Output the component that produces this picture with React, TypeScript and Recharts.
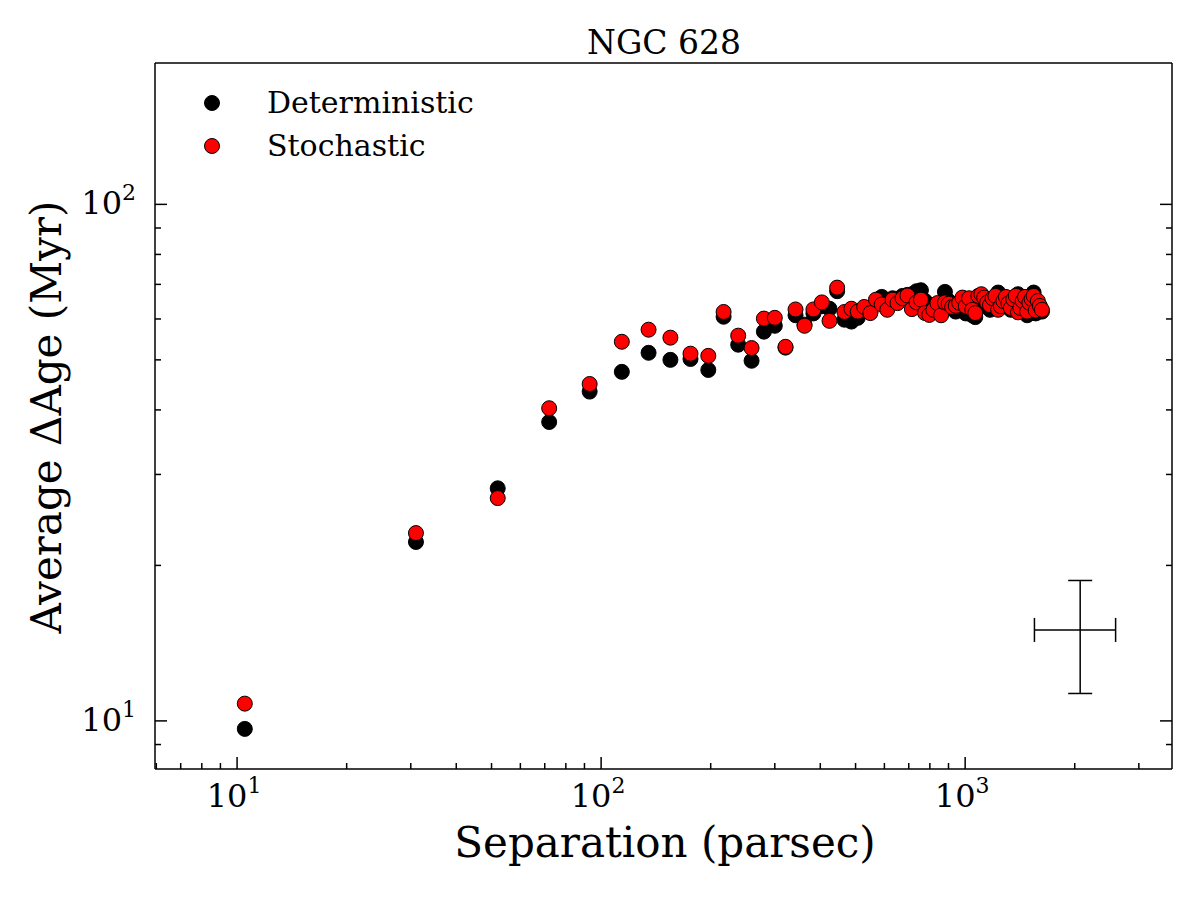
import { ScatterChart, Scatter, XAxis, YAxis, ErrorBar } from 'recharts'

// bin centres (parsec)
const separation = [
  10.5, 31, 52, 72, 93, 114, 135, 155, 176, 197, 217, 238, 259, 280, 300, 321, 342, 362, 383, 404,
  424, 445, 466, 487, 507, 528, 549, 569, 590, 611, 632, 652, 673, 694, 714, 735, 756, 776, 797, 818,
  839, 859, 880, 901, 921, 942, 963, 983, 1004, 1025, 1046, 1066, 1087, 1108, 1128, 1149, 1170, 1190,
  1211, 1232, 1253, 1273, 1294, 1315, 1335, 1356, 1377, 1397, 1418, 1439, 1460, 1480, 1501, 1522,
  1542, 1563, 1584, 1604, 1625,
]

// average delta age (Myr)
const deterministic = [
  9.65, 22.2, 28.2, 37.9, 43.4, 47.4, 51.6, 50.0, 50.2, 47.8, 60.6, 53.5, 49.8, 56.7, 58.2, 52.8,
  61.0, 58.5, 61.5, 63.5, 62.8, 67.9, 59.8, 59.3, 60.3, 62.5, 61.8, 64.5, 66.2, 63.0, 65.8, 65.5,
  66.5, 66.8, 67.0, 67.9, 68.2, 65.0, 63.5, 62.0, 63.0, 64.0, 67.7, 65.0, 63.5, 62.0, 63.0,
  63.0, 61.5, 63.5, 61.0, 60.5, 64.0, 65.5, 65.0, 63.5, 62.5, 64.5, 65.5, 67.5, 65.0, 64.0,
  65.0, 63.5, 62.5, 64.5, 66.0, 67.0, 62.5, 64.0, 65.5, 61.0, 63.5, 64.5, 67.5, 61.5, 64.0, 62.5, 62.0,
]

const stochastic = [
  10.8, 23.1, 27.0, 40.3, 44.9, 54.2, 57.2, 55.2, 51.4, 50.9, 61.9, 55.7, 52.7, 60.1, 60.3, 53.0,
  62.6, 58.2, 62.6, 64.6, 59.5, 69.0, 61.9, 62.8, 62.0, 63.3, 61.6, 65.4, 64.0, 62.5, 65.4, 64.4,
  65.8, 66.6, 62.7, 64.6, 65.4, 61.6, 61.1, 62.5, 64.4, 61.0, 64.6, 64.2, 63.3, 63.6, 64.5,
  66.0, 63.5, 65.8, 62.5, 61.6, 66.5, 67.0, 66.0, 64.5, 63.8, 65.8, 66.5, 62.5, 63.5, 65.0,
  66.2, 64.3, 63.0, 65.5, 66.5, 61.8, 63.0, 65.0, 66.2, 62.0, 64.5, 65.6, 66.5, 62.3, 65.0, 63.6, 62.5,
]

// typical uncertainty shown in the lower right
const errorPoint = [{ x: 2070, y: 15, ex: 520, ey: 3.7 }]

const xTicks = [6, 7, 8, 9, 10, 20, 30, 40, 50, 60, 70, 80, 90, 100, 200, 300, 400, 500, 600, 700, 800, 900, 1000, 2000, 3000]
const yTicks = [9, 10, 20, 30, 40, 50, 60, 70, 80, 90, 100]

const FONT = '"DejaVu Serif", serif'

const detData = separation.map((x, i) => ({ x, y: deterministic[i] }))
const stoData = separation.map((x, i) => ({ x, y: stochastic[i] }))

const isMajor = (v: number) => Math.abs(Math.log10(v) - Math.round(Math.log10(v))) < 1e-6

const Power = ({ x, y, v, anchor }: any) => (
  <text x={x} y={y} textAnchor={anchor} fontFamily={FONT} fontSize={32} fill="#000">
    10
    <tspan dy={-14} fontSize={22}>{Math.round(Math.log10(v))}</tspan>
  </text>
)

const tickProps = { stroke: '#000', strokeWidth: 1.5 }

const BottomTick = ({ x, y, payload }: any) => {
  const major = isMajor(payload.value)
  return (
    <g>
      <line x1={x} x2={x} y1={y} y2={y - (major ? 12 : 6)} {...tickProps} />
      {major && <Power x={x - 3} y={y + 38} v={payload.value} anchor="middle" />}
    </g>
  )
}

const TopTick = ({ x, y, payload }: any) => {
  const major = isMajor(payload.value)
  return <line x1={x} x2={x} y1={y} y2={y + (major ? 12 : 6)} {...tickProps} />
}

const LeftTick = ({ x, y, payload }: any) => {
  const major = isMajor(payload.value)
  return (
    <g>
      <line x1={x} x2={x + (major ? 12 : 6)} y1={y} y2={y} {...tickProps} />
      {major && <Power x={x - 19} y={y + 10} v={payload.value} anchor="end" />}
    </g>
  )
}

const RightTick = ({ x, y, payload }: any) => {
  const major = isMajor(payload.value)
  return <line x1={x} x2={x - (major ? 12 : 6)} y1={y} y2={y} {...tickProps} />
}

const dot = (fill: string) => (props: any) => (
  <circle cx={props.cx} cy={props.cy} r={7.5} fill={fill} stroke="#000" strokeWidth={1} />
)

const axisLine = { stroke: '#000', strokeWidth: 1.5 }

export default function App() {
  return (
    <div style={{ position: 'absolute', left: 0, top: 0, width: 1200, height: 900, background: '#fff' }}>
      <ScatterChart width={1200} height={900} margin={{ top: 0, right: 0, bottom: 0, left: 0 }}>
        <XAxis
          xAxisId="b"
          dataKey="x"
          type="number"
          scale="log"
          domain={[5.95, 3700]}
          allowDataOverflow
          ticks={xTicks}
          interval={0}
          height={131}
          tickSize={0}
          tickMargin={0}
          tickLine={false}
          axisLine={axisLine}
          tick={BottomTick}
        />
        <XAxis
          xAxisId="t"
          orientation="top"
          type="number"
          scale="log"
          domain={[5.95, 3700]}
          allowDataOverflow
          ticks={xTicks}
          interval={0}
          height={63}
          tickSize={0}
          tickMargin={0}
          tickLine={false}
          axisLine={axisLine}
          tick={TopTick}
        />
        <YAxis
          yAxisId="l"
          dataKey="y"
          type="number"
          scale="log"
          domain={[8.07, 187.8]}
          allowDataOverflow
          ticks={yTicks}
          interval={0}
          width={155}
          tickSize={0}
          tickMargin={0}
          tickLine={false}
          axisLine={axisLine}
          tick={LeftTick}
        />
        <YAxis
          yAxisId="r"
          orientation="right"
          type="number"
          scale="log"
          domain={[8.07, 187.8]}
          allowDataOverflow
          ticks={yTicks}
          interval={0}
          width={28}
          tickSize={0}
          tickMargin={0}
          tickLine={false}
          axisLine={axisLine}
          tick={RightTick}
        />
        <Scatter
          name="Deterministic"
          data={detData}
          xAxisId="b"
          yAxisId="l"
          isAnimationActive={false}
          shape={dot('#000')}
        />
        <Scatter
          name="Stochastic"
          data={stoData}
          xAxisId="b"
          yAxisId="l"
          isAnimationActive={false}
          shape={dot('#ff0000')}
        />
        <Scatter
          data={errorPoint}
          xAxisId="b"
          yAxisId="l"
          isAnimationActive={false}
          shape={() => <g />}
        >
          <ErrorBar dataKey="ex" direction="x" width={12} stroke="#000" strokeWidth={1.5} />
          <ErrorBar dataKey="ey" direction="y" width={12} stroke="#000" strokeWidth={1.5} />
        </Scatter>
      </ScatterChart>

      {/* title, axis labels, legend */}
      <svg width={1200} height={900} style={{ position: 'absolute', left: 0, top: 0, pointerEvents: 'none' }}>
        <text x={664} y={54} textAnchor="middle" fontFamily={FONT} fontSize={33} fill="#000">
          NGC 628
        </text>
        <text x={665} y={857} textAnchor="middle" fontFamily={FONT} fontSize={42} fill="#000">
          Separation (parsec)
        </text>
        <text
          x={61}
          y={417}
          textAnchor="middle"
          transform="rotate(-90, 61, 417)"
          fontFamily={FONT}
          fontSize={42}
          fill="#000"
        >
          Average ΔAge (Myr)
        </text>
        <circle cx={212} cy={103} r={7.5} fill="#000" stroke="#000" strokeWidth={1} />
        <text x={267} y={113} fontFamily={FONT} fontSize={30} fill="#000">Deterministic</text>
        <circle cx={212} cy={146} r={7.5} fill="#ff0000" stroke="#000" strokeWidth={1} />
        <text x={267} y={156} fontFamily={FONT} fontSize={30} fill="#000">Stochastic</text>
      </svg>
    </div>
  )
}
